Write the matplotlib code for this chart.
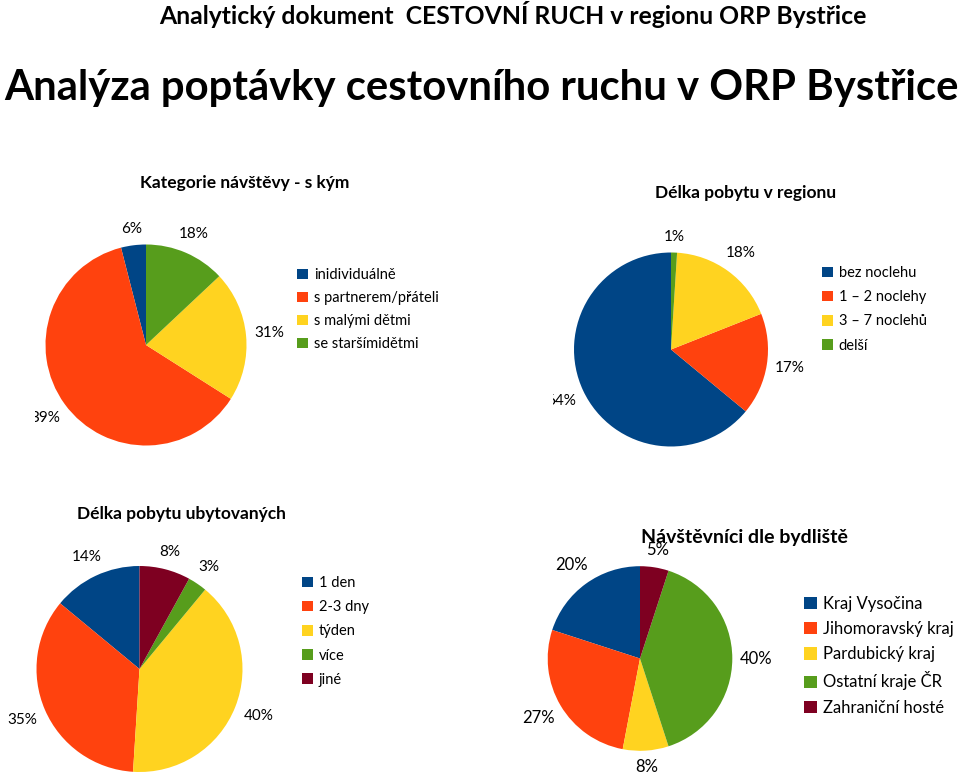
import matplotlib
matplotlib.use("Agg")
import matplotlib.pyplot as plt
import numpy as np
from matplotlib.patches import Patch
from matplotlib.transforms import Bbox, TransformedBbox

plt.rcParams['font.family'] = ['Lato', 'DejaVu Sans']

W, H = 960, 778

# LibreOffice default palette
c_blue, c_red, c_yellow, c_green, c_maroon = '#004586', '#ff420e', '#ffd320', '#579d1c', '#7e0021'

# ---- Data ----
title_top = "Analytický dokument  CESTOVNÍ RUCH v regionu ORP Bystřice"
title_main = "Analýza poptávky cestovního ruchu v ORP Bystřice"

c1_title = "Kategorie návštěvy - s kým"
c1_categories = ["inidividuálně", "s partnerem/přáteli", "s malými dětmi", "se staršímidětmi"]
c1_values = [4, 62, 21, 13]
c1_labels = ["6%", "39%", "31%", "18%"]

c2_title = "Délka pobytu v regionu"
c2_categories = ["bez noclehu", "1 – 2 noclehy", "3 – 7 noclehů", "delší"]
c2_values = [64, 17, 18, 1]
c2_labels = ["64%", "17%", "18%", "1%"]

c3_title = "Délka pobytu ubytovaných"
c3_categories = ["1 den", "2-3 dny", "týden", "více", "jiné"]
c3_values = [14, 35, 40, 3, 8]
c3_labels = ["14%", "35%", "40%", "3%", "8%"]

c4_title = "Návštěvníci dle bydliště"
c4_categories = ["Kraj Vysočina", "Jihomoravský kraj", "Pardubický kraj", "Ostatní kraje ČR", "Zahraniční hosté"]
c4_values = [20, 27, 8, 40, 5]
c4_labels = ["20%", "27%", "8%", "40%", "5%"]

colors4 = [c_blue, c_red, c_yellow, c_green]
colors5 = [c_blue, c_red, c_yellow, c_green, c_maroon]

fig = plt.figure(figsize=(W / 100, H / 100), dpi=100)
fig.patch.set_facecolor('white')

def fx(x):
    return x / W

def fy(y):
    return 1 - y / H

fig.text(fx(513), fy(15), title_top, ha='center', va='center', fontsize=17.8, fontweight='bold')
fig.text(fx(481), fy(88), title_main, ha='center', va='center', fontsize=30.2, fontweight='bold')

def make_pie(cx, cy, r, values, colors, labels, label_fs, clip_x=None, clip_idx=None):
    ax = fig.add_axes([fx(cx - r), fy(cy + r), 2 * r / W, 2 * r / H])
    ax.pie(values, colors=colors, startangle=90, counterclock=True, radius=1,
           wedgeprops=dict(linewidth=0))
    ax.set_xlim(-1, 1)
    ax.set_ylim(-1, 1)
    ax.axis('off')
    total = float(sum(values))
    cum = np.cumsum([0] + list(values)) / total
    texts = []
    for i, lab in enumerate(labels):
        mid = 90 + 360 * (cum[i] + cum[i + 1]) / 2
        ux, uy = np.cos(np.radians(mid)), np.sin(np.radians(mid))
        t = ax.text(1.1 * ux, 1.1 * uy, lab, ha='center', va='center', fontsize=label_fs,
                    clip_on=False)
        texts.append((t, ux, uy))
    fig.canvas.draw()
    for i, (t, ux, uy) in enumerate(texts):
        bb = t.get_window_extent()
        shift = (bb.width / 2 * abs(ux) + bb.height / 2 * abs(uy)) / r
        d = 1.08 + shift
        t.set_position((d * ux, d * uy))
        if clip_x is not None and i == clip_idx:
            t.set_clip_on(True)
            t.set_clip_box(TransformedBbox(Bbox.from_extents(fx(clip_x), 0, 1, 1), fig.transFigure))
    return ax

def make_legend(x, y, cats, colors, fs, spacing):
    handles = [Patch(facecolor=c, edgecolor='none') for c in colors]
    fig.legend(handles, cats, loc='upper left', bbox_to_anchor=(fx(x), fy(y)),
               frameon=False, fontsize=fs, handlelength=0.75, handleheight=0.75,
               handletextpad=0.4, labelspacing=spacing, borderpad=0, borderaxespad=0)

# Chart 1
fig.text(fx(245), fy(183), c1_title, ha='center', va='center', fontsize=12.5, fontweight='bold')
make_pie(146, 345, 100.5, c1_values, colors4, c1_labels, 11, clip_x=35, clip_idx=1)
make_legend(297, 268, c1_categories, colors4, 10.5, 0.62)

# Chart 2
fig.text(fx(746), fy(193), c2_title, ha='center', va='center', fontsize=12.5, fontweight='bold')
make_pie(671, 349.5, 97, c2_values, colors4, c2_labels, 11, clip_x=553, clip_idx=0)
make_legend(822, 266, c2_categories, colors4, 10.5, 0.7)

# Chart 3
fig.text(fx(181), fy(514), c3_title, ha='center', va='center', fontsize=12.5, fontweight='bold')
make_pie(139.5, 669, 103, c3_values, colors5, c3_labels, 11)
make_legend(302, 576, c3_categories, colors5, 10.5, 0.7)

# Chart 4
fig.text(fx(744), fy(537), c4_title, ha='center', va='center', fontsize=14, fontweight='bold')
make_pie(640, 658.5, 92.3, c4_values, colors5, c4_labels, 12)
make_legend(804, 596, c4_categories, colors5, 12, 0.55)

fig.savefig('out.png', dpi=100, facecolor='white')
